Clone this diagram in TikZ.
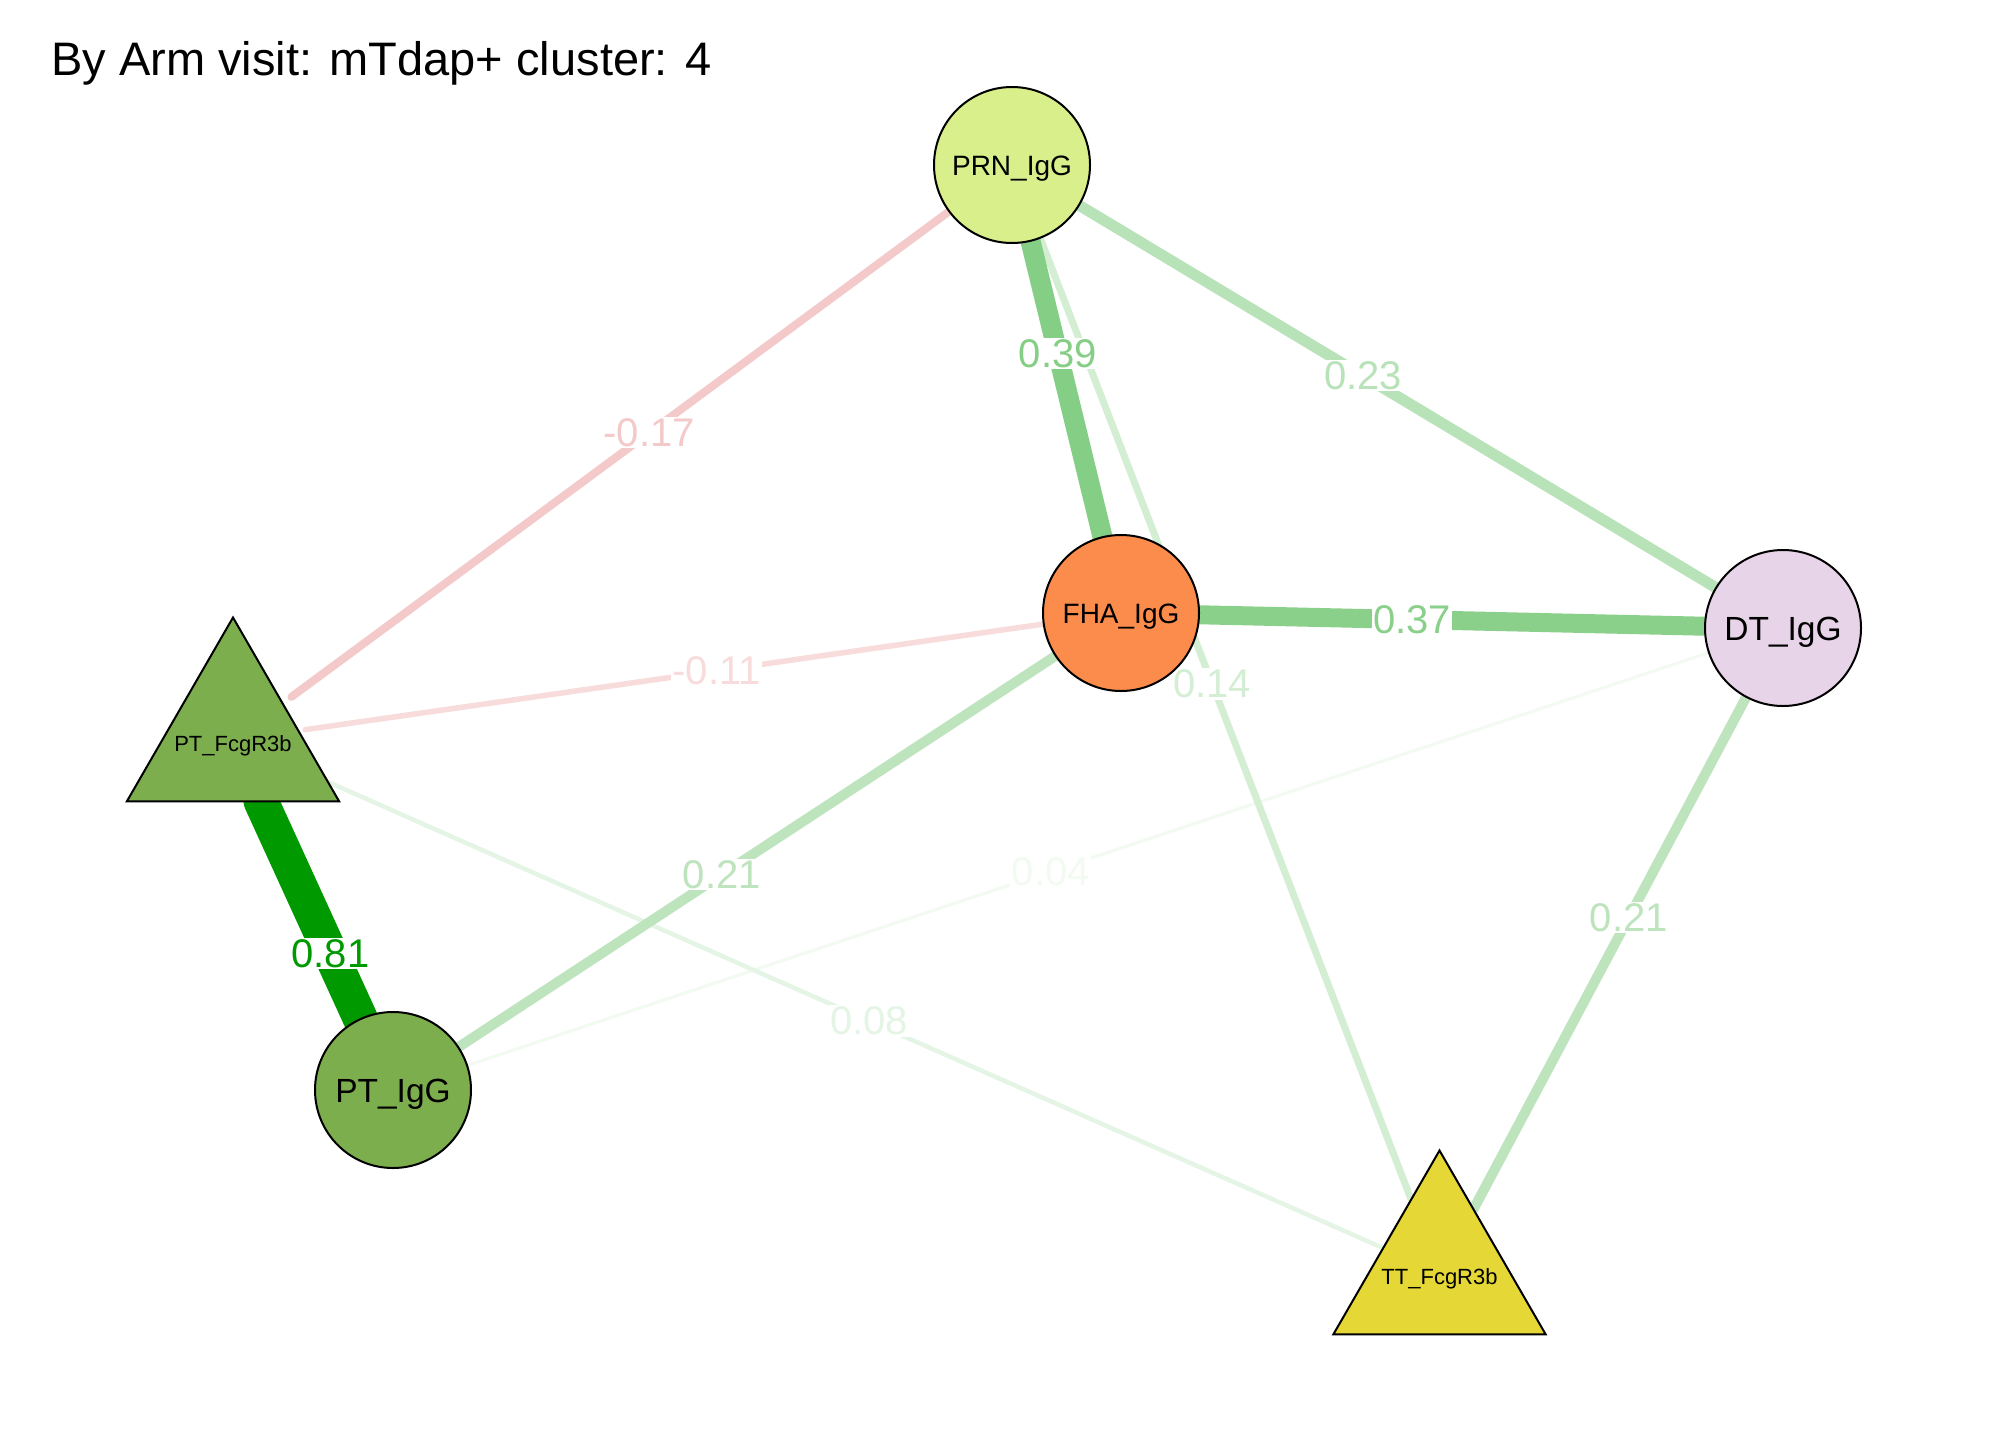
\documentclass[tikz,border=0pt]{standalone}
\usepackage{fontspec}
\setmainfont{Liberation Sans}
\usetikzlibrary{shapes.geometric}
\definecolor{posc}{HTML}{009900}
\definecolor{negc}{HTML}{CC0000}
\definecolor{prnc}{HTML}{D9EF8B}
\definecolor{fhac}{HTML}{FC8C4C}
\definecolor{dtc}{HTML}{E7D4E8}
\definecolor{ptc}{HTML}{7DAE4E}
\definecolor{ttc}{HTML}{E5D836}
\pgfdeclarelayer{bg}
\pgfdeclarelayer{edges}
\pgfsetlayers{bg,edges,main}
\begin{document}
\begin{tikzpicture}[x=1pt,y=-1pt,
  vnode/.style={circle,draw=black,line width=2pt,minimum size=156pt,inner sep=0pt,outer sep=0pt,text depth=0pt},
  tnode/.style={regular polygon,regular polygon sides=3,draw=black,line width=2pt,minimum size=245pt,inner sep=0pt,outer sep=0pt},
  tlab/.style={font=\fontsize{22}{22}\selectfont,text=black,text height=16pt,text depth=0pt,yshift=-3pt},
  elab/.style={fill=white,inner sep=1.5pt,font=\fontsize{40}{40}\selectfont},
  conn/.style={line cap=round}]
\useasboundingbox (0,0) rectangle (2016,1440);
\begin{pgfonlayer}{bg}
\fill[white] (0,0) rectangle (2016,1440);
\end{pgfonlayer}
\node[anchor=base west,inner sep=0pt,font=\fontsize{47}{47}\selectfont] (title) at (51,75) {By Arm visit: mTdap+ cluster: 4};
\node[vnode,fill=prnc,font=\fontsize{28}{28}\selectfont,text height=20pt] (prn) at (1012,165) {PRN\_IgG};
\node[vnode,fill=fhac,font=\fontsize{28}{28}\selectfont,text height=20pt] (fha) at (1121,613) {FHA\_IgG};
\node[vnode,fill=dtc,font=\fontsize{33.5}{33.5}\selectfont,text height=24pt] (dt) at (1783,628) {DT\_IgG};
\node[vnode,fill=ptc,font=\fontsize{33.5}{33.5}\selectfont,text height=24pt] (pti) at (393,1090) {PT\_IgG};
\node[tnode,fill=ptc,label={[tlab,name=ptflab]center:PT\_FcgR3b}] (ptf) at (233,740) {};
\node[tnode,fill=ttc,label={[tlab,name=ttlab]center:TT\_FcgR3b}] (tt) at (1439.5,1273) {};
\begin{pgfonlayer}{edges}
\draw[conn,line width=3pt,draw=posc!5!white] (pti) -- node[elab,pos=0.47,text=posc!5!white] (l04) {0.04} (dt);
\draw[conn,line width=4.5pt,draw=posc!10!white] (ptf) -- node[elab,pos=0.513,text=posc!10!white] (l08) {0.08} (tt);
\draw[conn,line width=5.5pt,draw=negc!14!white,shorten <=7pt] (ptf) -- node[elab,pos=0.561,text=negc!14!white] (l11) {-0.11} (fha);
\draw[conn,line width=7pt,draw=posc!17!white] (prn) -- node[elab,pos=0.464,text=posc!17!white] (l14) {0.14} (tt);
\draw[conn,line width=8pt,draw=negc!21!white,shorten <=11pt] (ptf) -- node[elab,pos=0.55,text=negc!21!white] (l17) {-0.17} (prn);
\draw[conn,line width=10pt,draw=posc!26!white] (pti) -- node[elab,pos=0.441,text=posc!26!white] (l21a) {0.21} (fha);
\draw[conn,line width=10pt,draw=posc!26!white] (dt) -- node[elab,pos=0.431,text=posc!26!white] (l21b) {0.21} (tt);
\draw[conn,line width=11pt,draw=posc!28!white] (prn) -- node[elab,pos=0.446,text=posc!28!white] (l23) {0.23} (dt);
\draw[conn,line width=19pt,draw=posc!46!white] (fha) -- node[elab,pos=0.421,text=posc!46!white] (l37) {0.37} (dt);
\draw[conn,line width=20pt,draw=posc!48!white] (prn) -- node[elab,pos=0.38,text=posc!48!white] (l39) {0.39} (fha);
\draw[conn,line width=35pt,draw=posc] (ptf) -- node[elab,pos=0.698,text=posc] (l81) {0.81} (pti);
\end{pgfonlayer}
\end{tikzpicture}
\end{document}
